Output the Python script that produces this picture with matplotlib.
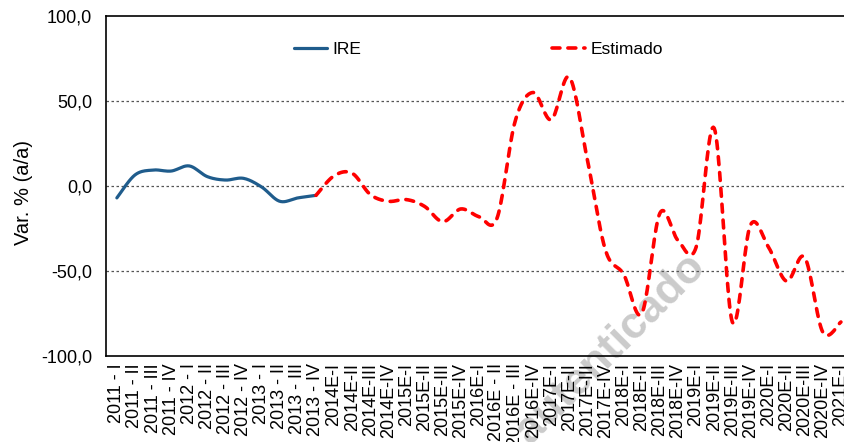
import numpy as np
import matplotlib
matplotlib.use("Agg")
import matplotlib.pyplot as plt

plt.rcParams['font.family'] = ['Liberation Sans', 'DejaVu Sans']

periods = ['2011 - I', '2011 - II', '2011 - III', '2011 - IV',
           '2012 - I', '2012 - II', '2012 - III', '2012 - IV',
           '2013 - I', '2013 - II', '2013 - III', '2013 - IV',
           '2014E-I', '2014E-II', '2014E-III', '2014E-IV',
           '2015E-I', '2015E-II', '2015E-III', '2015E-IV',
           '2016E-I', '2016E - II', '2016E - III', '2016E-IV',
           '2017E-I', '2017E-II', '2017E-III', '2017E-IV',
           '2018E-I', '2018E-II', '2018E-III', '2018E-IV',
           '2019E-I', '2019E-II', '2019E-III', '2019E-IV',
           '2020E-I', '2020E-II', '2020E-III', '2020E-IV',
           '2021E-I']

# observed index (2011-I .. 2013-IV)
ire = [-7.0, 6.5, 9.4, 8.8, 11.8, 5.5, 3.5, 4.5, -0.6, -9.0, -7.0, -5.5]

# estimate, starting at 2013-IV
estimado = [-5.5, 6.0, 7.5, -5.0, -9.0, -8.0, -12.0, -21.0, -13.5, -18.0,
            -19.0, 38.0, 55.0, 39.0, 64.0, 15.0, -38.0, -52.0, -75.0, -16.0,
            -32.0, -36.0, 34.0, -80.0, -23.0, -36.0, -56.0, -42.0, -86.0, -80.0]


def smooth(x, y, n=20):
    # excel style smoothed line (cardinal spline through the points)
    x = np.asarray(x, float)
    y = np.asarray(y, float)
    xs, ys = [], []
    for i in range(len(x) - 1):
        p0 = (x[max(i - 1, 0)], y[max(i - 1, 0)])
        p1 = (x[i], y[i])
        p2 = (x[i + 1], y[i + 1])
        p3 = (x[min(i + 2, len(x) - 1)], y[min(i + 2, len(x) - 1)])
        c1 = (p1[0] + (p2[0] - p0[0]) / 6, p1[1] + (p2[1] - p0[1]) / 6)
        c2 = (p2[0] - (p3[0] - p1[0]) / 6, p2[1] - (p3[1] - p1[1]) / 6)
        t = np.linspace(0, 1, n, endpoint=(i == len(x) - 2))
        a, b, c, d = (1 - t) ** 3, 3 * t * (1 - t) ** 2, 3 * t ** 2 * (1 - t), t ** 3
        xs.append(a * p1[0] + b * c1[0] + c * c2[0] + d * p2[0])
        ys.append(a * p1[1] + b * c1[1] + c * c2[1] + d * p2[1])
    return np.concatenate(xs), np.concatenate(ys)


fig = plt.figure(figsize=(8.44, 4.42), dpi=100)
ax = fig.add_axes([106 / 844, 86 / 442, 1 - 106 / 844, 340 / 442])

x_ire = np.arange(len(ire))
x_est = np.arange(len(ire) - 1, len(ire) - 1 + len(estimado))

sx, sy = smooth(x_ire, ire)
ax.plot(sx, sy, color='#1F5C8C', lw=2.3, solid_capstyle='round', label='IRE', zorder=3)
sx, sy = smooth(x_est, estimado)
ax.plot(sx, sy, color='#FF0000', lw=2.6, linestyle=(0, (2.2, 2.2)),
        dash_capstyle='round', label='Estimado', zorder=3)

ax.set_ylim(-100, 100)
ax.set_xlim(-0.6, 40.17)
ax.set_yticks([-100, -50, 0, 50, 100])
ax.set_yticklabels(['-100,0', '-50,0', '0,0', '50,0', '100,0'], fontsize=13)
ax.set_xticks(range(len(periods)))
ax.set_xticklabels(periods, rotation=90, fontsize=13)
ax.tick_params(length=0)
ax.tick_params(axis='y', pad=10)
ax.tick_params(axis='x', pad=5)

for v in [-50, 0, 50]:
    ax.axhline(v, color='#555555', lw=0.9, linestyle=(0, (2, 2)), zorder=1)

for s in ['left', 'bottom', 'top']:
    ax.spines[s].set_color('black')
    ax.spines[s].set_linewidth(1.2)
ax.spines['right'].set_visible(False)

ax.set_ylabel('Var. % (a/a)', fontsize=14.5)
ax.yaxis.set_label_coords(-0.099, 0.48)

ax.legend(loc='upper center', bbox_to_anchor=(0.505, 0.97), ncol=2, frameon=False,
          fontsize=12.5, handlelength=1.9, handletextpad=0.3, columnspacing=11.0)

ax.text(0.838, 0.39, 'Documento autenticado', transform=fig.transFigure,
        fontsize=32, fontweight='bold', color='#cbcbcb', rotation=45,
        rotation_mode='anchor', ha='right', va='baseline', zorder=0.5, clip_on=False)

fig.savefig('out.png', dpi=100)
